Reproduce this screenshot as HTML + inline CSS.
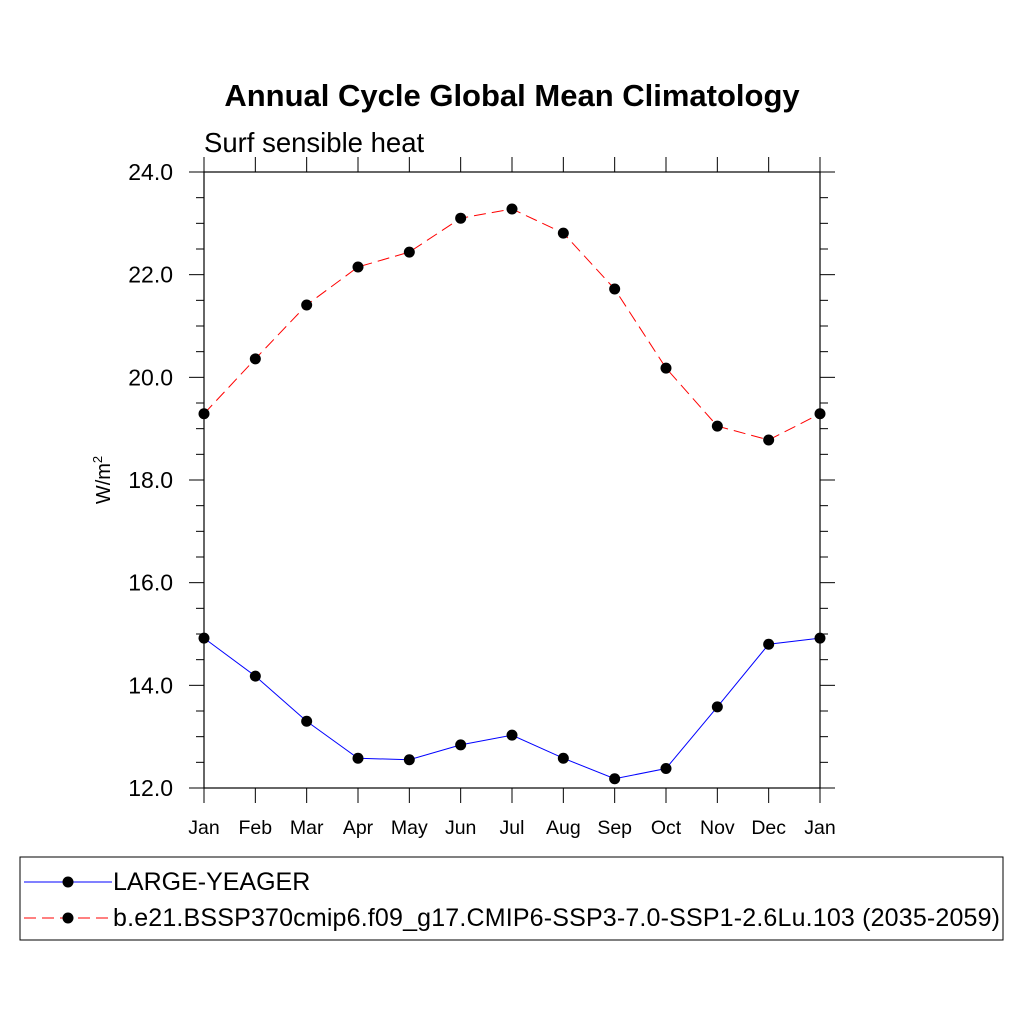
<!DOCTYPE html>
<html><head><meta charset="utf-8"><style>body{margin:0;background:#fff}svg{display:block;font-family:"Liberation Sans",Arial,sans-serif}</style></head>
<body>
<svg id="chart" width="1024" height="1024">
<text x="512" y="106" text-anchor="middle" font-size="31" font-weight="bold">Annual Cycle Global Mean Climatology</text>
<text x="204" y="152" font-size="27.5">Surf sensible heat</text>
<text transform="translate(110,480) rotate(-90)" text-anchor="middle" font-size="20">W/m<tspan dy="-8" font-size="13">2</tspan></text>
<g id="axes"></g>
<g id="series"></g>
<rect x="20" y="857" width="983" height="83" fill="none" stroke="#000" stroke-width="1"/>
<g>
<line x1="24" y1="882" x2="112" y2="882" stroke="#00f" stroke-width="1"/>
<circle cx="68" cy="882" r="5.5" fill="#000"/>
<text x="113" y="890" font-size="25">LARGE-YEAGER</text></g>
<g>
<line x1="24" y1="918" x2="112" y2="918" stroke="#f00" stroke-width="1" stroke-dasharray="12,6"/>
<circle cx="68" cy="918" r="5.5" fill="#000"/>
<text x="113" y="926" font-size="25" textLength="887">b.e21.BSSP370cmip6.f09_g17.CMIP6-SSP3-7.0-SSP1-2.6Lu.103 (2035-2059)</text></g>
</svg>
<script>
const months=["Jan","Feb","Mar","Apr","May","Jun","Jul","Aug","Sep","Oct","Nov","Dec","Jan"];
const blueVals=[14.92,14.18,13.30,12.58,12.55,12.84,13.03,12.58,12.18,12.38,13.58,14.80,14.92];
const redVals=[19.29,20.36,21.41,22.15,22.44,23.10,23.28,22.81,21.72,20.18,19.05,18.78,19.29];
const yTicks=[12,14,16,18,20,22,24];
const NS="http://www.w3.org/2000/svg";
const L=204,R=820,T=172,B=788,ymin=12,ymax=24;
const xs=i=>L+(R-L)*i/(months.length-1);
const ys=v=>B-(v-ymin)/(ymax-ymin)*(B-T);
function mk(t,a,p){const e=document.createElementNS(NS,t);for(const k in a)e.setAttribute(k,a[k]);p.appendChild(e);return e;}
const ax=document.getElementById('axes');
const frame=mk('rect',{x:L,y:T,width:R-L,height:B-T,fill:'none',stroke:'#000','stroke-width':1.2},ax);


for(let v=ymin;v<=ymax+1e-9;v+=0.5){const y=ys(v);const maj=Math.abs(v/2-Math.round(v/2))<1e-6;const len=maj?15:8;
mk('line',{x1:L-len,y1:y,x2:L,y2:y,stroke:'#000'},ax);mk('line',{x1:R,y1:y,x2:R+len,y2:y,stroke:'#000'},ax);}
yTicks.forEach(v=>{const t=mk('text',{x:L-31,y:ys(v)+8,'text-anchor':'end','font-size':23},ax);t.textContent=v.toFixed(1);

});
months.forEach((m,i)=>{const x=xs(i);mk('line',{x1:x,y1:B,x2:x,y2:B+15,stroke:'#000'},ax);mk('line',{x1:x,y1:T-15,x2:x,y2:T,stroke:'#000'},ax);
const t=mk('text',{x:x,y:B+46,'text-anchor':'middle','font-size':19.5},ax);t.textContent=m;

});
const sg=document.getElementById('series');
function series(vals,color,dash,name){const g=mk('g',{},sg);


mk('polyline',{points:vals.map((v,i)=>xs(i)+','+ys(v)).join(' '),fill:'none',stroke:color,'stroke-width':1,'stroke-dasharray':dash},g);
vals.forEach((v,i)=>{const c=mk('circle',{cx:xs(i),cy:ys(v),r:5.5,fill:'#000'},g);

});}
series(redVals,'#f00','12,6','series-ssp');
series(blueVals,'#00f','none','series-large-yeager');
</script>
</body></html>
